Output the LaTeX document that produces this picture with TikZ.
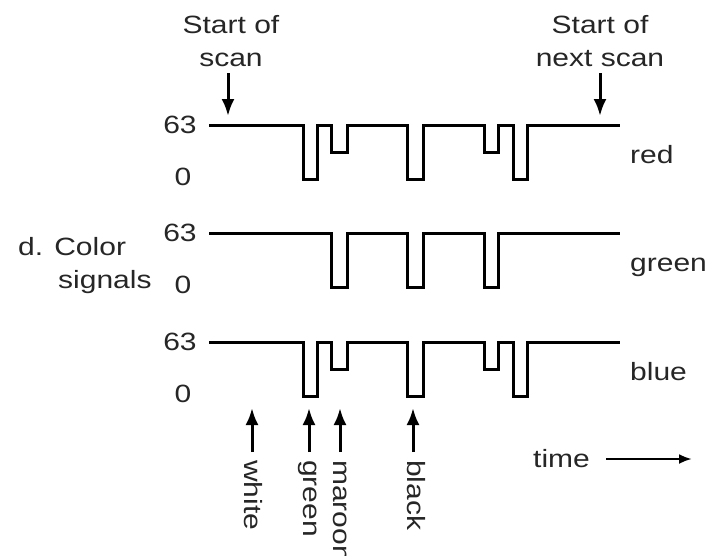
\documentclass[tikz,border=0pt]{standalone}
\usepackage{fontspec}
\setmainfont[FakeStretch=1.2]{Liberation Sans}
\usetikzlibrary{arrows.meta}

\begin{document}
\begin{tikzpicture}[x=1pt,y=-1pt,
  signal/.style={line width=3pt, line join=miter},
  lbl/.style={font=\fontsize{25}{30}\selectfont, inner sep=0pt, text=black!85},
  pointer/.style={line width=3pt, -{Latex[length=17pt,width=13pt]}},
  timearrow/.style={line width=2.6pt, -{Latex[length=13pt,width=10pt]}},
]
\useasboundingbox (0,0) rectangle (722,555);

% ---- red and blue traces share one pattern (top, bottom, half level)
\newcommand\rbtrace[3]{%
  \draw[signal] (209,#1) -| (303,#2) -| (317,#1) -| (331,#3) -| (347,#1)
    -| (407,#2) -| (423,#1) -| (484,#3) -| (498,#1) -| (513,#2) -| (527,#1)
    -- (620,#1);}
\rbtrace{125}{179}{152}
\rbtrace{342}{396}{369}
% ---- green trace
\draw[signal] (209,233) -| (331,287) -| (347,233) -| (407,287) -| (423,233)
  -| (484,287) -| (498,233) -- (620,233);

% ---- level labels
\foreach \t/\n in {125/r,233/g,342/b}{
  \node[lbl, anchor=base] (hi\n) at (180,\t+8) {63};
  \node[lbl, anchor=base] (lo\n) at (183,\t+60) {0};
}
\node[lbl, anchor=base west] (nred)   at (630,163) {red};
\node[lbl, anchor=base west] (ngreen) at (630,271) {green};
\node[lbl, anchor=base west] (nblue)  at (630,380) {blue};

\node[lbl, anchor=base west] (cs1) at (18,255) {d. Color};
\node[lbl, anchor=base west] (cs2) at (58,288) {signals};

% ---- scan markers
\node[lbl, anchor=base] (ss1) at (231,33) {Start of};
\node[lbl, anchor=base] (ss2) at (231,66) {scan};
\node[lbl, anchor=base] (ns1) at (600,33) {Start of};
\node[lbl, anchor=base] (ns2) at (600,66) {next scan};
\coordinate (ssTip) at (228,116);
\coordinate (nsTip) at (600,116);
\draw[pointer, shorten <=7pt] (ss2.south -| ssTip) -- (ssTip);
\draw[pointer, shorten <=7pt] (ns2.south -| nsTip) -- (nsTip);

% ---- colour markers under the traces
\foreach \name/\bx/\ax/\txt in {cw/244/252/white, cg/303/309/green,
                                cm/333/340/maroon, ck/407/413/black}{
  \node[lbl, rotate=-90, anchor=base west] (\name) at (\bx,460) {\txt};
  \coordinate (\name Tip) at (\ax,408);
  \draw[pointer, shorten <=8pt] (\name Tip |- \name.west) -- (\name Tip);
}

% ---- time axis
\node[lbl, anchor=base west] (time) at (533,467) {time};
\coordinate (timeTip) at (692,459);
\draw[timearrow, shorten <=16pt] (time.east |- timeTip) -- (timeTip);
\end{tikzpicture}
\end{document}
